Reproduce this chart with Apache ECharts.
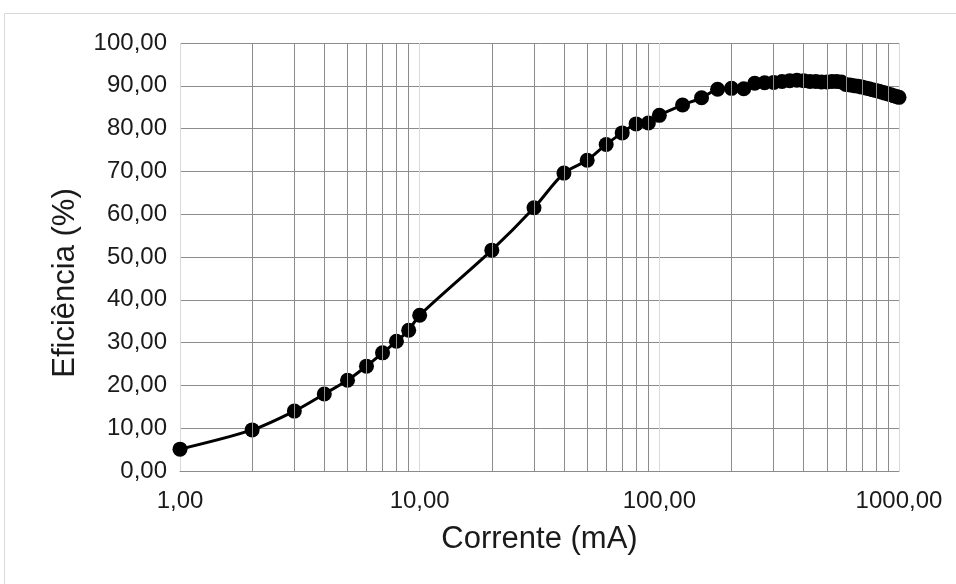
<!DOCTYPE html>
<html>
<head>
<meta charset="utf-8">
<script src="https://cdn.jsdelivr.net/npm/echarts@6/dist/echarts.min.js"></script>
<style>html,body{margin:0;padding:0;background:#fff;}#c{width:956px;height:584px;}</style>
</head>
<body>
<div id="c"></div>
<script>
const current = [1,2,3,4,5,6,7,8,9,10,20,30,40,50,60,70,80,90,100,125,150,175,200,225,250,275,300,325,350,375,400,425,450,475,500,525,550,575,600,625,650,675,700,725,750,775,800,825,850,875,900,925,950,975,1000];
const efficiency = [5.1,9.6,14.0,18.0,21.2,24.5,27.6,30.3,32.9,36.4,51.6,61.5,69.6,72.6,76.3,79.0,81.1,81.3,83.1,85.5,87.2,89.2,89.4,89.3,90.6,90.7,90.8,91.0,91.2,91.3,91.2,91.0,91.0,90.9,90.9,91.0,91.0,90.9,90.3,90.2,90.0,89.9,89.7,89.5,89.3,89.1,88.9,88.7,88.5,88.3,88.1,87.9,87.7,87.5,87.3];
const yTicks = [0,10,20,30,40,50,60,70,80,90,100];
const minorX = [2,3,4,5,6,7,8,9,20,30,40,50,60,70,80,90,200,300,400,500,600,700,800,900];
const xTitle = 'Corrente (mA)';
const yTitle = 'Eficiência (%)';

const FONT = 'Liberation Sans, Arial, sans-serif';
const fmt = v => Number(v).toFixed(2).replace('.', ',');
const chart = echarts.init(document.getElementById('c'));
chart.setOption({
  animation: false,
  textStyle: { fontFamily: FONT },
  graphic: [{
    type: 'rect', shape: { x: 4.5, y: 13.5, width: 1000, height: 1000 },
    style: { fill: 'none', stroke: '#d9d9d9', lineWidth: 1 }, silent: true, z: -10
  }],
  grid: { left: 180, right: 57, top: 43, bottom: 113 },
  xAxis: {
    type: 'log', logBase: 10, min: 1, max: 1000,
    name: xTitle, nameLocation: 'middle', nameGap: 53,
    nameTextStyle: { fontSize: 31, color: '#1a1a1a', fontFamily: FONT },
    axisLine: { show: true, lineStyle: { color: '#8c8c8c', width: 1 } },
    axisTick: { show: false },
    axisLabel: { formatter: fmt, fontSize: 24, color: '#1a1a1a', margin: 18, showMinLabel: true, showMaxLabel: true },
    splitLine: { show: true, lineStyle: { color: '#d9d9d9', width: 1 } },
    minorTick: { show: false }, minorSplitLine: { show: false }
  },
  yAxis: {
    type: 'value', min: yTicks[0], max: yTicks[yTicks.length - 1], interval: 10,
    name: yTitle, nameLocation: 'middle', nameGap: 99,
    nameTextStyle: { fontSize: 31, color: '#1a1a1a', fontFamily: FONT, padding: [0, 52, 0, 0] },
    axisLine: { show: false },
    axisTick: { show: false },
    axisLabel: { formatter: fmt, fontSize: 24, color: '#1a1a1a', margin: 13 },
    splitLine: { show: true, lineStyle: { color: '#8c8c8c', width: 1 } }
  },
  series: [
    {
      type: 'line', data: [], z: 1, silent: true,
      markLine: {
        silent: true, symbol: ['none', 'none'], label: { show: false },
        lineStyle: { color: '#8c8c8c', width: 1, type: 'solid' },
        emphasis: { disabled: true },
        data: minorX.map(v => ({ xAxis: v }))
      }
    },
    {
      type: 'line', z: 3,
      data: current.map((c, i) => [c, efficiency[i]]),
      smooth: 0.3,
      symbol: 'circle', symbolSize: 15,
      lineStyle: { color: '#000', width: 3 },
      itemStyle: { color: '#000' }
    }
  ]
});
</script>
</body>
</html>
